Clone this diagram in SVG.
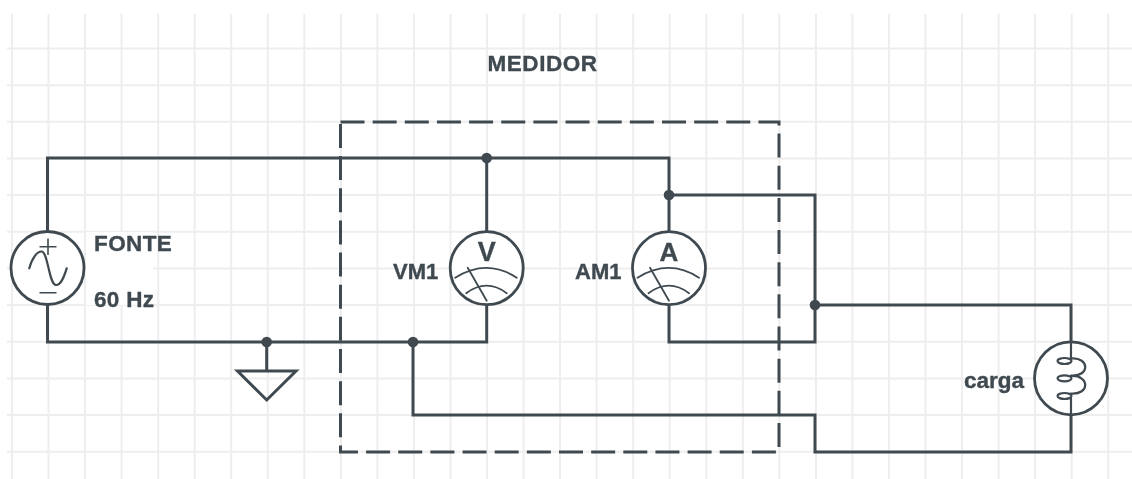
<svg xmlns="http://www.w3.org/2000/svg" width="1132" height="479" viewBox="0 0 1132 479">
<style>
text{font-family:"Liberation Sans",Arial,sans-serif;font-weight:700;fill:#3f4a50;font-size:22.500px;stroke:#3f4a50;stroke-width:.35px}
.w{fill:none;stroke:#3f4a50;stroke-width:3;stroke-linejoin:miter}
.s{fill:none;stroke:#3f4a50;stroke-width:2.200;stroke-linecap:round}
.n{fill:none;stroke:#3f4a50;stroke-width:1.800;stroke-linecap:round}
.t{fill:none;stroke:#3f4a50;stroke-width:1.600}
.c{fill:#fff;stroke:#3f4a50;stroke-width:2.800}
.d{fill:#3f4a50}
.g{stroke:#eeeeee;stroke-width:2;fill:none}
</style>
<defs>
<filter id="b" x="0" y="0" width="1132" height="479" filterUnits="userSpaceOnUse"><feGaussianBlur stdDeviation="0.4"/></filter>
<g id="dial"><path class="n" d="M-31.500,9.500Q0,-10 30,9.500"/><path class="n" d="M-20.500,25Q0,10 20,25"/><path class="n" d="M-19,-0.500L0,32.500"/></g>
</defs>
<rect width="1132" height="479" fill="#fff"/>
<g filter="url(#b)">
<g id="grid"><path class="g" d="M12,14V479M48.500,14V479M85,14V479M121.600,14V479M158.200,14V479M194.700,14V479M231.200,14V479M267.800,14V479M304.300,14V479M340.900,14V479M377.400,14V479M413.900,14V479M450.500,14V479M487,14V479M523.600,14V479M560.100,14V479M596.600,14V479M633.200,14V479M669.700,14V479M706.300,14V479M742.800,14V479M779.300,14V479M815.900,14V479M852.400,14V479M889,14V479M925.500,14V479M962,14V479M998.600,14V479M1035.100,14V479M1071.700,14V479M1108.200,14V479"/>
<path class="g" d="M7,48.500H1132M7,85.200H1132M7,121.800H1132M7,158.500H1132M7,195.100H1132M7,231.800H1132M7,268.400H1132M7,305H1132M7,341.700H1132M7,378.400H1132M7,415H1132M7,451.700H1132"/></g>
<g id="medidor-box"><path d="M340.500,122H779V452H340.500Z" fill="none" stroke="#3f4a50" stroke-width="3" stroke-dasharray="24 8.150"/></g>
<g id="connectors"><path class="w" d="M47.500,232V158H669V232M486.700,158V232"/>
<path class="w" d="M47.500,304V342H486.700V304M669,304V342H815V195H669"/>
<path class="w" d="M815,305H1071V342M1071,414V452H815V415H413V342"/>
<circle class="d" cx="486.700" cy="158" r="5.300"/><circle class="d" cx="669" cy="195" r="5.300"/><circle class="d" cx="815" cy="305" r="5.300"/><circle class="d" cx="413" cy="342" r="5.300"/><circle class="d" cx="266.700" cy="342" r="5.300"/></g>
<g id="fonte"><rect x="86" y="232" width="67" height="73" fill="#fff"/><circle class="c" cx="47.500" cy="268" r="36.500"/>
<path class="s" d="M29.300,268.300C32,258 37,251.500 41.500,251.500C48,251.500 49,285 56,285C61,285 64,277 66.700,268.300"/><path class="t" d="M39.500,246.700H56.500M48,238.500V255M39.500,292.700H56.500"/>
<text x="94" y="250.500" style="letter-spacing:.4px">FONTE</text><text x="94" y="306.500" style="letter-spacing:.3px">60 Hz</text></g>
<g id="terra"><path class="w" d="M266.700,342V371M237.500,371H296L266.700,400Z"/></g>
<g id="vm1"><circle class="c" cx="486.700" cy="268.200" r="36.500"/><use href="#dial" x="486.700" y="268.200"/><text x="486.700" y="261" text-anchor="middle" style="font-size:27px">V</text><text x="393" y="279" style="font-size:22px">VM1</text></g>
<g id="am1"><circle class="c" cx="669" cy="268.200" r="36.500"/><use href="#dial" x="669" y="268.200"/><text x="669" y="261" text-anchor="middle" style="font-size:26px">A</text><text x="575" y="279" style="font-size:22px">AM1</text></g>
<g id="carga"><circle class="c" cx="1071" cy="378.300" r="36.500"/>
<path class="s" d="M1071,342V358.500M1071,398.500V415M1071,358.500C1090,357 1090,377 1071,375.500M1071,376C1090,375 1090,395 1071,393.500"/>
<ellipse class="s" cx="1064.500" cy="361" rx="7" ry="3"/><ellipse class="s" cx="1064.500" cy="378.300" rx="7" ry="3"/><ellipse class="s" cx="1064.500" cy="396" rx="7" ry="3"/>
<text x="964" y="387.500">carga</text></g>
<g id="titulo"><text x="487.500" y="71" style="letter-spacing:.55px">MEDIDOR</text></g>
</g>
</svg>
